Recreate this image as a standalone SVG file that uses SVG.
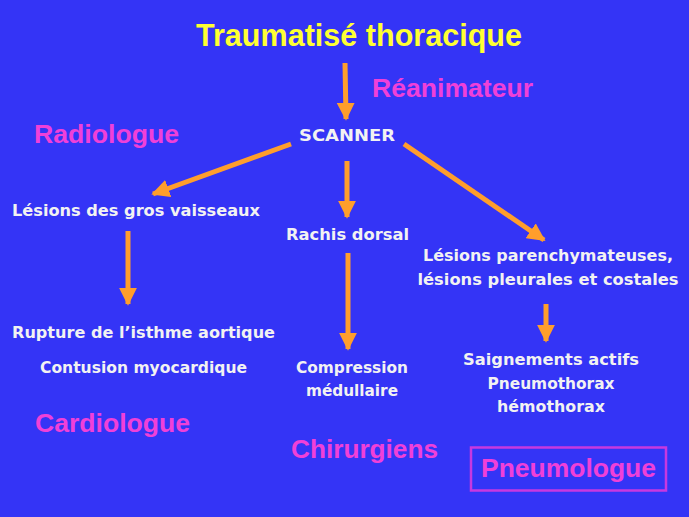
<svg xmlns="http://www.w3.org/2000/svg" width="689" height="517" viewBox="0 0 689 517">
<style>
.t{font-family:"DejaVu Sans","Liberation Sans",sans-serif;font-weight:bold;fill:#F2F2F2;font-size:16.5px}
.m{font-family:"Liberation Sans",Arial,sans-serif;font-weight:bold;fill:#F040D8;font-size:26px}
.y{font-family:"Liberation Sans",Arial,sans-serif;font-weight:bold;fill:#FFFF33;font-size:31px}
.a{stroke:#FF9E2C;stroke-width:5;fill:none}
</style>
<defs>
<marker id="h" viewBox="0 0 10 10" refX="9" refY="5" markerWidth="3.6" markerHeight="3.6" markerUnits="strokeWidth" orient="auto">
<path d="M0,0 L10,5 L0,10 Z" fill="#FF9E2C"/>
</marker>
</defs>
<rect width="689" height="517" fill="#3434F6"/>
<g id="connectors">
<line class="a" x1="345" y1="63" x2="346" y2="119" marker-end="url(#h)"/>
<line class="a" x1="347" y1="161" x2="347" y2="217" marker-end="url(#h)"/>
<line class="a" x1="291" y1="144" x2="153" y2="194" marker-end="url(#h)"/>
<line class="a" x1="404" y1="144" x2="544" y2="240" marker-end="url(#h)"/>
<line class="a" x1="128" y1="231" x2="128" y2="304" marker-end="url(#h)"/>
<line class="a" x1="348" y1="253" x2="348" y2="349" marker-end="url(#h)"/>
<line class="a" x1="546" y1="304" x2="546" y2="341" marker-end="url(#h)"/>
</g>
<g id="title"><text class="y" x="359" y="46" text-anchor="middle" textLength="326" lengthAdjust="spacingAndGlyphs">Traumatisé thoracique</text></g>
<g id="reanimateur"><text class="m" x="372" y="97" textLength="161" lengthAdjust="spacingAndGlyphs">Réanimateur</text></g>
<g id="radiologue"><text class="m" x="34" y="143" textLength="145" lengthAdjust="spacingAndGlyphs">Radiologue</text></g>
<g id="scanner"><text class="t" x="299" y="141" textLength="96" lengthAdjust="spacingAndGlyphs">SCANNER</text></g>
<g id="vaisseaux"><text class="t" x="12" y="216" textLength="248" lengthAdjust="spacingAndGlyphs">Lésions des gros vaisseaux</text></g>
<g id="rachis"><text class="t" x="286" y="240" textLength="123" lengthAdjust="spacingAndGlyphs">Rachis dorsal</text></g>
<g id="parenchyme">
<text class="t" x="548" y="261" text-anchor="middle" textLength="250" lengthAdjust="spacingAndGlyphs">Lésions parenchymateuses,</text>
<text class="t" x="548" y="285" text-anchor="middle" textLength="261" lengthAdjust="spacingAndGlyphs">lésions pleurales et costales</text>
</g>
<g id="rupture"><text class="t" x="12" y="338" textLength="263" lengthAdjust="spacingAndGlyphs">Rupture de l’isthme aortique</text></g>
<g id="contusion"><text class="t" x="40" y="373" textLength="207" lengthAdjust="spacingAndGlyphs">Contusion myocardique</text></g>
<g id="compression">
<text class="t" x="352" y="373" text-anchor="middle" textLength="112" lengthAdjust="spacingAndGlyphs">Compression</text>
<text class="t" x="352" y="396" text-anchor="middle" textLength="92" lengthAdjust="spacingAndGlyphs">médullaire</text>
</g>
<g id="saignements">
<text class="t" x="551" y="365" text-anchor="middle" textLength="176" lengthAdjust="spacingAndGlyphs">Saignements actifs</text>
<text class="t" x="551" y="389" text-anchor="middle" textLength="127" lengthAdjust="spacingAndGlyphs">Pneumothorax</text>
<text class="t" x="551" y="412" text-anchor="middle" textLength="108" lengthAdjust="spacingAndGlyphs">hémothorax</text>
</g>
<g id="cardiologue"><text class="m" x="35" y="432" textLength="155" lengthAdjust="spacingAndGlyphs">Cardiologue</text></g>
<g id="chirurgiens"><text class="m" x="291" y="458" textLength="147" lengthAdjust="spacingAndGlyphs">Chirurgiens</text></g>
<g id="pneumologue">
<rect x="471" y="447.5" width="195" height="43" fill="none" stroke="#C838E0" stroke-width="2.5"/>
<text class="m" x="481" y="477" textLength="175" lengthAdjust="spacingAndGlyphs">Pneumologue</text>
</g>
</svg>
